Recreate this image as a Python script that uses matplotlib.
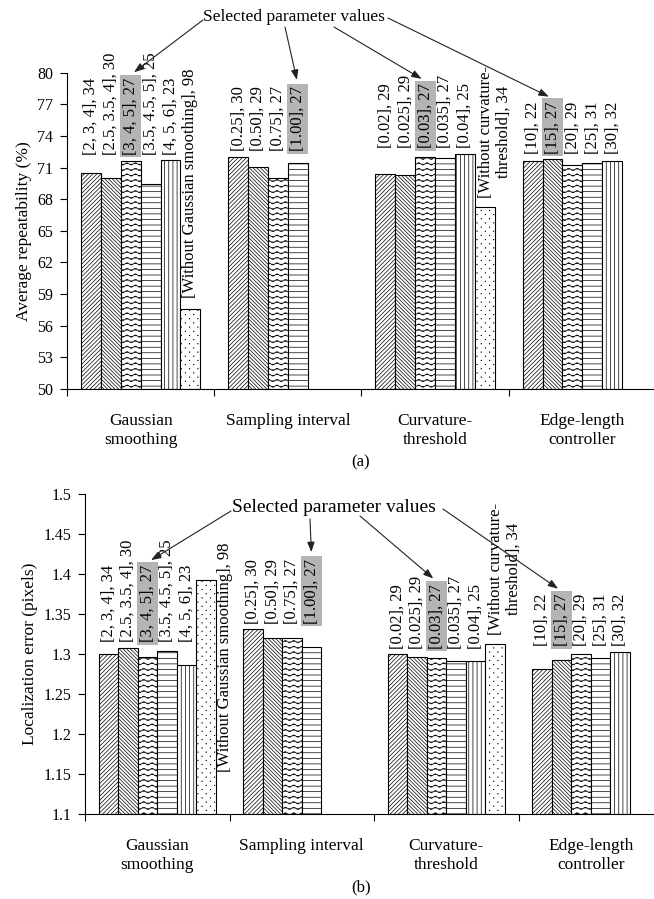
import numpy as np
import matplotlib
matplotlib.use("Agg")
import matplotlib.pyplot as plt
import matplotlib.hatch as mhatch
from matplotlib.path import Path

plt.rcParams["font.family"] = ["Liberation Serif", "DejaVu Serif"]
plt.rcParams["hatch.linewidth"] = 0.5
plt.rcParams["hatch.color"] = "black"

# ---- data -------------------------------------------------------------
categories = ["Gaussian\nsmoothing", "Sampling interval",
              "Curvature-\nthreshold", "Edge-length\ncontroller"]

gauss_labels = ["[2, 3, 4], 34", "[2.5, 3.5, 4], 30", "[3, 4, 5], 27",
                "[3.5, 4.5, 5], 25", "[4, 5, 6], 23",
                "[Without Gaussian smoothing], 98"]
samp_labels = ["[0.25], 30", "[0.50], 29", "[0.75], 27", "[1.00], 27"]
curv_labels = ["[0.02], 29", "[0.025], 29", "[0.03], 27", "[0.035], 27",
               "[0.04], 25", "[Without curvature-\nthreshold], 34"]
edge_labels = ["[10], 22", "[15], 27", "[20], 29", "[25], 31", "[30], 32"]
selected = [2, 3, 2, 1]

# (a) average repeatability (%)
gauss_rep = [70.5, 70.0, 71.6, 69.4, 71.7, 57.6]
samp_rep = [72.0, 71.1, 70.0, 71.4]
curv_rep = [70.4, 70.3, 72.0, 71.9, 72.3, 67.3]
edge_rep = [71.6, 71.8, 71.2, 71.4, 71.6]

# (b) localization error (pixels)
gauss_err = [1.300, 1.308, 1.297, 1.304, 1.286, 1.393]
samp_err = [1.331, 1.320, 1.320, 1.309]
curv_err = [1.300, 1.297, 1.295, 1.292, 1.292, 1.313]
edge_err = [1.282, 1.293, 1.300, 1.295, 1.303]

rep_ticks = np.arange(50, 81, 3)
err_ticks = [1.1, 1.15, 1.2, 1.25, 1.3, 1.35, 1.4, 1.45, 1.5]


# ---- Excel-like fill patterns that matplotlib lacks -------------------
class WaveHatch(mhatch.HatchPatternBase):
    def __init__(self, hatch, density):
        self.num_lines = int(hatch.count("~") * density)
        self.num_periods = int(self.num_lines * 2 // 3)
        self.num_points = self.num_periods * 8 + 1
        self.num_vertices = self.num_lines * self.num_points

    def set_vertices_and_codes(self, vertices, codes):
        x = np.linspace(0.0, 1.0, self.num_points)
        wave = 0.2 / self.num_lines * np.sin(2 * np.pi * self.num_periods * x)
        for i in range(self.num_lines):
            sl = slice(i * self.num_points, (i + 1) * self.num_points)
            vertices[sl, 0] = x
            vertices[sl, 1] = (i + 0.5) / self.num_lines + wave
            codes[sl] = Path.LINETO
            codes[i * self.num_points] = Path.MOVETO


class SparseDotHatch(mhatch.HatchPatternBase):
    def __init__(self, hatch, density):
        self.num_cols = int(hatch.count(":") * density)
        self.num_rows = 2 * self.num_cols
        self.num_vertices = self.num_cols * self.num_rows * 5

    def set_vertices_and_codes(self, vertices, codes):
        s = 0.002
        sq = np.array([[-s, -s], [s, -s], [s, s], [-s, s], [-s, -s]])
        n = 0
        for r in range(self.num_rows):
            shift = 0.5 if r % 2 else 0.0
            for c in range(self.num_cols):
                cx = (c + 0.25 + shift) / self.num_cols
                cy = (r + 0.5) / self.num_rows
                vertices[n:n + 5] = sq + [cx, cy]
                codes[n:n + 5] = [Path.MOVETO, Path.LINETO, Path.LINETO,
                                  Path.LINETO, Path.CLOSEPOLY]
                n += 5


mhatch._hatch_types += [WaveHatch, SparseDotHatch]
mhatch._validate_hatch_pattern = lambda hatch: None

SLOT_HATCH = ["////////", "\\" * 9, "~~~", "---", "||||", "::"]
BAR_W = 0.135
FS = 12
W, H = 654, 899


def fig_xy(px, py):
    return px / W, 1 - py / H


def panel(ax, groups, labels, ylim, ticks, fmt, ylabel, without_pos,
          arrow_starts):
    lo = ylim[0]
    label_art = []
    for k, (vals, labs) in enumerate(zip(groups, labels)):
        regular = [v for v, l in zip(vals, labs) if not l.startswith("[Without")]
        top = max(regular)
        for j, (v, lab) in enumerate(zip(vals, labs)):
            x = k + 0.5 + (j - 2.5) * BAR_W
            ax.bar(x, v - lo, bottom=lo, width=BAR_W, color="white",
                   edgecolor="black", linewidth=0.8, hatch=SLOT_HATCH[j])
            bbox = None
            if j == selected[k]:
                bbox = dict(boxstyle="square,pad=0.15", fc="#b4b4b4", ec="none")
            if lab.startswith("[Without"):
                off, va = without_pos[k]
                t = ax.annotate(lab, (x, v), xytext=off, textcoords="offset points",
                                rotation=90, ha="center", va=va, fontsize=FS,
                                multialignment="center", linespacing=1.1)
            else:
                t = ax.annotate(lab, (x, top), xytext=(0, 4), textcoords="offset points",
                                rotation=90, ha="center", va="bottom", fontsize=FS,
                                bbox=bbox)
            if j == selected[k]:
                label_art.append(t)

    ax.set_xlim(0, 4)
    ax.set_ylim(*ylim)
    ax.set_yticks(ticks)
    ax.set_yticklabels([fmt % t for t in ticks])
    ax.tick_params(axis="y", direction="out", length=5, width=0.8, pad=5,
                   labelsize=11.5)
    ax.set_xticks([0.5, 1.5, 2.5, 3.5], categories)
    ax.set_xticks([0, 1, 2, 3, 4], minor=True)
    ax.tick_params(axis="x", which="major", length=0, pad=17, labelsize=12.5)
    ax.tick_params(axis="x", which="minor", direction="out", length=5, width=0.8)
    for t in ax.get_xticklabels():
        t.set_linespacing(1.3)
    ax.set_ylabel(ylabel, fontsize=12.5, labelpad=4)
    for s in ("top", "right"):
        ax.spines[s].set_visible(False)
    for s in ("left", "bottom"):
        ax.spines[s].set_linewidth(0.8)

    for t, start in zip(label_art, arrow_starts):
        ax.annotate("", xy=(0.5, 1.0), xycoords=t.get_bbox_patch(),
                    xytext=fig_xy(*start), textcoords="figure fraction",
                    arrowprops=dict(arrowstyle="-|>,head_length=0.6,head_width=0.22",
                                    color="#222222", lw=0.8, shrinkA=0, shrinkB=3))


fig = plt.figure(figsize=(W / 100, H / 100), dpi=100)
ax1 = fig.add_axes([67 / W, 1 - 389 / H, 589 / W, (389 - 72.7) / H])
ax2 = fig.add_axes([85 / W, 1 - 814 / H, 578 / W, (814 - 494.3) / H])

groups_labels = [gauss_labels, samp_labels, curv_labels, edge_labels]

panel(ax1, [gauss_rep, samp_rep, curv_rep, edge_rep], groups_labels,
      (50, 80), rep_ticks, "%d", "Average repeatability (%)",
      {0: ((0, 8), "bottom"), 2: ((7, 6), "bottom")},
      [(203, 20), (285, 27), (334, 27), (388, 18)])
panel(ax2, [gauss_err, samp_err, curv_err, edge_err], groups_labels,
      (1.1, 1.5), err_ticks, "%g", "Localization error (pixels)",
      {0: ((14, 27), "top"), 2: ((7, 6), "bottom")},
      [(231, 511), (310, 519), (360, 516), (443, 509)])

fig.text(*fig_xy(203, 17), "Selected parameter values", ha="left", va="center",
         fontsize=12.5)
fig.text(*fig_xy(232, 507), "Selected parameter values", ha="left", va="center",
         fontsize=14)
fig.text(*fig_xy(361, 462), "(a)", ha="center", va="center", fontsize=FS)
fig.text(*fig_xy(361, 887), "(b)", ha="center", va="center", fontsize=FS)

fig.savefig("out.png", dpi=100)
